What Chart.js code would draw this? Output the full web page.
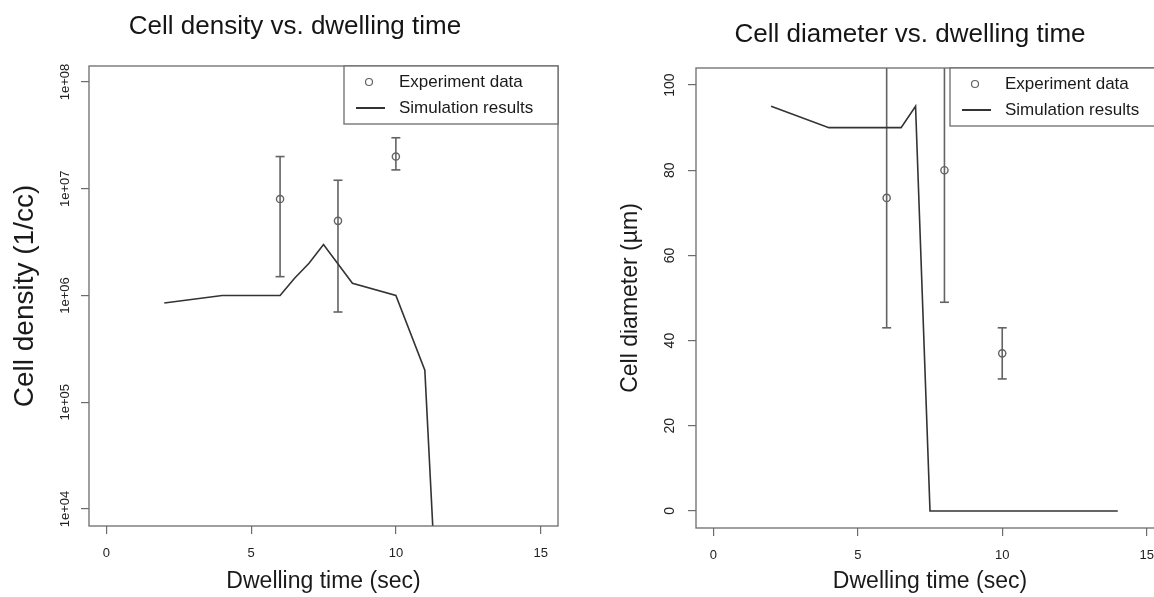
<!DOCTYPE html>
<html>
<head>
<meta charset="utf-8">
<title>Cell density / diameter vs. dwelling time</title>
<script src="https://cdn.jsdelivr.net/npm/chart.js@4.4.0/dist/chart.umd.min.js"></script>
<style>
    html, body { margin: 0; padding: 0; background: #fff; overflow: hidden; }
    body { position: relative; width: 1154px; height: 597px; }
    canvas { position: absolute; top: 0; }
    #densityChart { left: 0; }
    #diameterChart { left: 620px; }
</style>
</head>
<body>
<canvas id="densityChart" width="590" height="597"></canvas>
<canvas id="diameterChart" width="580" height="597"></canvas>
<script>
// data

// shared x axis
const timeTicks = [0, 5, 10, 15];

// left plot: cell density (log axis)
const simTimeDensity = [2, 4, 6, 6.5, 7, 7.5, 8.5, 10, 11, 11.3];
const simDensity = [8.5e5, 1e6, 1e6, 1.45e6, 2e6, 3e6, 1.3e6, 1e6, 2e5, 5e3];
const expTime = [6, 8, 10];
const expDensity = [8e6, 5e6, 2e7];
const expDensityLow = [1.5e6, 7e5, 1.5e7];
const expDensityHigh = [2e7, 1.2e7, 3e7];
const densityTicks = [1e4, 1e5, 1e6, 1e7, 1e8];
const densityTickLabels = ["1e+04", "1e+05", "1e+06", "1e+07", "1e+08"];

// right plot: cell diameter
const simTimeDiameter = [2, 4, 6.5, 7, 7.5, 14];
const simDiameter = [95, 90, 90, 95, 0, 0];
const expDiameter = [73.5, 80, 37];
const expDiameterLow = [43, 49, 31];
const expDiameterHigh = [110, 110, 43]; // first two go off the top of the plot
const diameterTicks = [0, 20, 40, 60, 80, 100];

const lineDark = "#333";
const pointGrey = "#636363";
const frameGrey = "#6c6c6c";

Chart.defaults.font.family = '"Liberation Sans", Arial, sans-serif';
Chart.defaults.color = "#222";

function toPoints(xs, ys) {
    return xs.map((x, i) => ({ x: x, y: ys[i] }));
}

// one line dataset for all error bars, null breaks the segments
function errorBarPoints(xs, lows, highs) {
    const pts = [];
    xs.forEach((x, i) => {
        pts.push({ x: x, y: lows[i] }, { x: x, y: highs[i] }, { x: x, y: null });
    });
    return pts;
}

// box round the plot region + legend box top right, like R does
const frameAndLegend = {
    id: "frameAndLegend",
    afterDatasetsDraw(chart) {
        const { ctx, chartArea: a } = chart;
        ctx.save();
        ctx.strokeStyle = frameGrey;
        ctx.lineWidth = 1.3;
        ctx.strokeRect(a.left, a.top, a.right - a.left, a.bottom - a.top);

        const lw = 214, lh = 58;
        const lx = a.right - lw, ly = a.top;
        ctx.fillStyle = "#fff";
        ctx.fillRect(lx, ly, lw, lh);
        ctx.strokeRect(lx, ly, lw, lh);

        ctx.beginPath();
        ctx.arc(a.right - 189, ly + 16, 3.5, 0, Math.PI * 2);
        ctx.strokeStyle = pointGrey;
        ctx.lineWidth = 1.2;
        ctx.stroke();

        ctx.beginPath();
        ctx.moveTo(a.right - 202, ly + 42);
        ctx.lineTo(a.right - 173, ly + 42);
        ctx.strokeStyle = lineDark;
        ctx.lineWidth = 2;
        ctx.stroke();

        ctx.fillStyle = "#1a1a1a";
        ctx.font = '17px "Liberation Sans", Arial, sans-serif';
        ctx.textBaseline = "middle";
        ctx.fillText(chart.data.datasets[1].label, a.right - 159, ly + 16);
        ctx.fillText(chart.data.datasets[0].label, a.right - 159, ly + 42);
        ctx.restore();
    },
};

function timeAxis(height) {
    return {
        type: "linear",
        min: -0.6,
        max: 15.6,
        afterBuildTicks: (s) => { s.ticks = timeTicks.map((v) => ({ value: v })); },
        afterFit: (s) => { s.height = height; },
        grid: { drawOnChartArea: false, tickLength: 8, color: frameGrey, lineWidth: 1.2 },
        border: { display: false },
        ticks: { padding: 12, font: { size: 13 }, maxRotation: 0, autoSkip: false },
        title: {
            display: true,
            text: "Dwelling time (sec)",
            color: "#1a1a1a",
            font: { size: 23 },
            padding: { top: 0, bottom: 2 },
        },
    };
}

function datasets(simX, simY, expY, lows, highs) {
    return [
        {
            label: "Simulation results",
            data: toPoints(simX, simY),
            showLine: true,
            borderColor: lineDark,
            borderWidth: 1.6,
            pointRadius: 0,
            tension: 0,
        },
        {
            label: "Experiment data",
            data: toPoints(expTime, expY),
            pointStyle: "circle",
            pointRadius: 3.6,
            backgroundColor: "rgba(0,0,0,0)",
            borderColor: pointGrey,
            borderWidth: 1.4,
        },
        {
            label: "error bars",
            data: errorBarPoints(expTime, lows, highs),
            showLine: true,
            spanGaps: false,
            borderColor: pointGrey,
            borderWidth: 1.6,
            pointStyle: "line",
            pointRadius: 4.5,
            pointBorderColor: pointGrey,
            pointBorderWidth: 1.6,
        },
    ];
}

function titleOpts(text, top, bottom) {
    return {
        display: true,
        text: text,
        color: "#151515",
        font: { size: 26, weight: "normal" },
        padding: { top: top, bottom: bottom },
    };
}

new Chart(document.getElementById("densityChart"), {
    type: "scatter",
    data: { datasets: datasets(simTimeDensity, simDensity, expDensity, expDensityLow, expDensityHigh) },
    options: {
        responsive: false,
        animation: false,
        events: [],
        layout: { padding: { left: 32, right: 32, top: 0, bottom: 0 } },
        plugins: {
            legend: { display: false },
            tooltip: { enabled: false },
            title: titleOpts("Cell density vs. dwelling time", 11.4, 23.4),
        },
        scales: {
            x: timeAxis(71),
            y: {
                type: "logarithmic",
                min: 6930,
                max: 1.41e8,
                afterBuildTicks: (s) => { s.ticks = densityTicks.map((v) => ({ value: v })); },
                afterFit: (s) => { s.width = 57; },
                grid: { drawOnChartArea: false, tickLength: 8, color: frameGrey, lineWidth: 1.2 },
                border: { display: false },
                ticks: {
                    callback: (v, i) => densityTickLabels[i],
                    minRotation: 90,
                    maxRotation: 90,
                    crossAlign: "center",
                    padding: -3,
                    autoSkip: false,
                    font: { size: 13 },
                },
                title: {
                    display: true,
                    text: "Cell density (1/cc)",
                    color: "#1a1a1a",
                    font: { size: 28 },
                    padding: { top: -24, bottom: 0 },
                },
            },
        },
    },
    plugins: [frameAndLegend],
});

new Chart(document.getElementById("diameterChart"), {
    type: "scatter",
    data: { datasets: datasets(simTimeDiameter, simDiameter, expDiameter, expDiameterLow, expDiameterHigh) },
    options: {
        responsive: false,
        animation: false,
        events: [],
        layout: { padding: { left: 36, right: 36, top: 0, bottom: 0 } },
        plugins: {
            legend: { display: false },
            tooltip: { enabled: false },
            title: titleOpts("Cell diameter vs. dwelling time", 19.4, 17.4),
        },
        scales: {
            x: timeAxis(69),
            y: {
                type: "linear",
                min: -4,
                max: 104,
                afterBuildTicks: (s) => { s.ticks = diameterTicks.map((v) => ({ value: v })); },
                afterFit: (s) => { s.width = 40; },
                grid: { drawOnChartArea: false, tickLength: 8, color: frameGrey, lineWidth: 1.2 },
                border: { display: false },
                ticks: {
                    minRotation: 90,
                    maxRotation: 90,
                    crossAlign: "center",
                    padding: 6,
                    autoSkip: false,
                    font: { size: 14 },
                },
                title: {
                    display: true,
                    text: "Cell diameter (µm)",
                    color: "#1a1a1a",
                    font: { size: 23 },
                    padding: { top: -39, bottom: 0 },
                },
            },
        },
    },
    plugins: [frameAndLegend],
});
</script>
</body>
</html>
